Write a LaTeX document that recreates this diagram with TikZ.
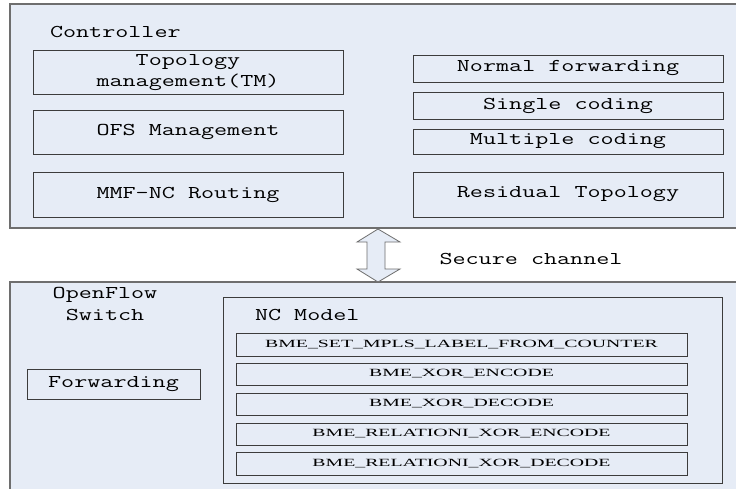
\documentclass[tikz,border=0pt]{standalone}
\usepackage{fontspec}
\usepackage{graphicx}
\newfontfamily\bmefont{Liberation Serif}[FakeStretch=1.8]
\newcommand{\mtxt}[1]{\scalebox{1.41}[1]{\fontsize{18}{20}\selectfont\ttfamily #1}}
\newcommand{\btxt}[1]{{\fontsize{11}{13}\selectfont\bmefont #1}}
\definecolor{boxfill}{RGB}{230,236,246}
\definecolor{outerline}{RGB}{110,110,110}
\definecolor{innerline}{RGB}{60,60,60}
\tikzset{
  outerbox/.style={draw=outerline, fill=boxfill, line width=1.2pt},
  ibox/.style={draw=innerline, fill=boxfill, line width=0.9pt, inner sep=0pt, outer sep=0pt, align=center},
  lbl/.style={inner sep=0pt, outer sep=0pt, align=center},
}
\begin{document}
\begin{tikzpicture}[x=1pt, y=-1pt]
\useasboundingbox (0,0) rectangle (736,488);
\fill[white] (0,0) rectangle (736,488);
% outer boxes
\draw[outerbox] (10,4) rectangle (745,228);
\draw[outerbox] (10,282) rectangle (745,500);
% controller
\node[lbl, anchor=base west] (ctl) at (50,37) {\mtxt{Controller}};
\node[ibox, minimum width=310pt, minimum height=44pt] (tm) at (188,72) {};
\node[lbl] (tmt1) at (188,62) {\mtxt{Topology}};
\node[lbl] (tmt2) at (188,82) {\mtxt{management(TM)}};
\node[ibox, minimum width=310pt, minimum height=44pt] (ofs) at (188,132) {\mtxt{OFS Management}};
\node[ibox, minimum width=310pt, minimum height=45pt] (mmf) at (188,194.5) {\mtxt{MMF-NC Routing}};
\node[ibox, minimum width=310pt, minimum height=27pt] (nf) at (568,68.5) {\mtxt{Normal forwarding}};
\node[ibox, minimum width=310pt, minimum height=27pt] (sc) at (568,105.5) {\mtxt{Single coding}};
\node[ibox, minimum width=310pt, minimum height=25pt] (mc) at (568,141.5) {\mtxt{Multiple coding}};
\node[ibox, minimum width=310pt, minimum height=45pt] (rt) at (568,194.5) {\mtxt{Residual Topology}};
% secure channel arrow
\draw[draw=outerline, fill=boxfill, line width=0.8pt]
  (378,229) -- (400,242) -- (385,242) -- (385,269) -- (400,269) -- (378,282)
  -- (357,269) -- (367,269) -- (367,242) -- (357,242) -- cycle;
\node[lbl] (sec) at (531,259) {\mtxt{Secure channel}};
% switch
\node[lbl] (ofsw1) at (105,295) {\mtxt{OpenFlow}};
\node[lbl] (ofsw2) at (105,315) {\mtxt{Switch}};
\node[ibox, minimum width=173pt, minimum height=30pt] (fwd) at (113.5,384) {\mtxt{Forwarding}};
\node[ibox, minimum width=499pt, minimum height=186pt] (ncm) at (472.5,390) {};
\node[lbl, anchor=west] (ncmt) at (255,315) {\mtxt{NC Model}};
\node[ibox, minimum width=451pt, minimum height=23pt] (b1) at (461.5,344.5) {\btxt{BME\_SET\_MPLS\_LABEL\_FROM\_COUNTER}};
\node[ibox, minimum width=451pt, minimum height=22pt] (b2) at (461.5,374) {\btxt{BME\_XOR\_ENCODE}};
\node[ibox, minimum width=451pt, minimum height=22pt] (b3) at (461.5,404) {\btxt{BME\_XOR\_DECODE}};
\node[ibox, minimum width=451pt, minimum height=22pt] (b4) at (461.5,434) {\btxt{BME\_RELATIONI\_XOR\_ENCODE}};
\node[ibox, minimum width=451pt, minimum height=23pt] (b5) at (461.5,463.5) {\btxt{BME\_RELATIONI\_XOR\_DECODE}};
\end{tikzpicture}
\end{document}
